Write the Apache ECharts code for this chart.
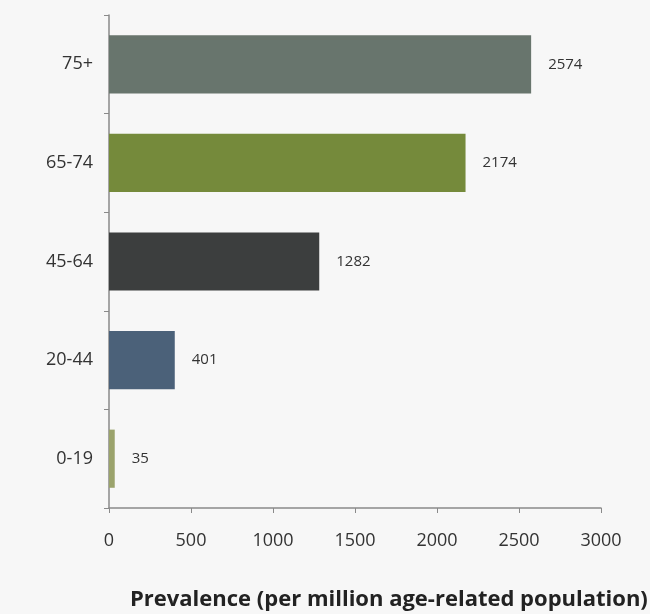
<!DOCTYPE html>
<html><head><meta charset="utf-8">
<script src="https://cdn.jsdelivr.net/npm/echarts@6/dist/echarts.min.js"></script>
<style>html,body{margin:0;padding:0;background:#f7f7f7}#c{width:650px;height:614px}</style>
</head><body><div id="c"></div>
<script>
const categories = ['0-19', '20-44', '45-64', '65-74', '75+'];
const values = [35, 401, 1282, 2174, 2574];
const barColors = ['#9ba36c', '#4b6179', '#3c3e3e', '#758a3b', '#68756d'];
const xTicks = [0, 500, 1000, 1500, 2000, 2500, 3000];
const axisTitle = 'Prevalence (per million age-related population)';

const chart = echarts.init(document.getElementById('c'));
chart.setOption({
  backgroundColor: '#f7f7f7',
  animation: false,
  title: {
    text: axisTitle, left: 125, top: 584,
    textStyle: {fontFamily: 'Open Sans', fontWeight: 'bold', fontSize: 22, color: '#222'}
  },
  grid: {left: 109, right: 49, top: 15, bottom: 106, containLabel: false},
  xAxis: {
    type: 'value', min: xTicks[0], max: xTicks[xTicks.length - 1], interval: 500,
    axisLine: {show: true, lineStyle: {color: '#8a8a8a', width: 1.5}},
    axisTick: {show: true, length: 5, lineStyle: {color: '#8a8a8a'}},
    splitLine: {show: false},
    axisLabel: {margin: 24, fontFamily: 'Open Sans', fontSize: 18, color: '#333',
      formatter: v => String(v)}
  },
  yAxis: {
    type: 'category', data: categories,
    axisLine: {show: true, lineStyle: {color: '#8a8a8a', width: 1.5}},
    axisTick: {show: true, length: 5, lineStyle: {color: '#8a8a8a'}},
    axisLabel: {margin: 16, fontFamily: 'Open Sans', fontSize: 18, color: '#333'}
  },
  series: [{
    type: 'bar',
    barCategoryGap: '41%',
    data: values.map((v, i) => ({value: v, itemStyle: {color: barColors[i]}})),
    label: {show: true, position: 'right', distance: 17, fontFamily: 'Open Sans', fontSize: 15, color: '#333'}
  }]
});
</script></body></html>
